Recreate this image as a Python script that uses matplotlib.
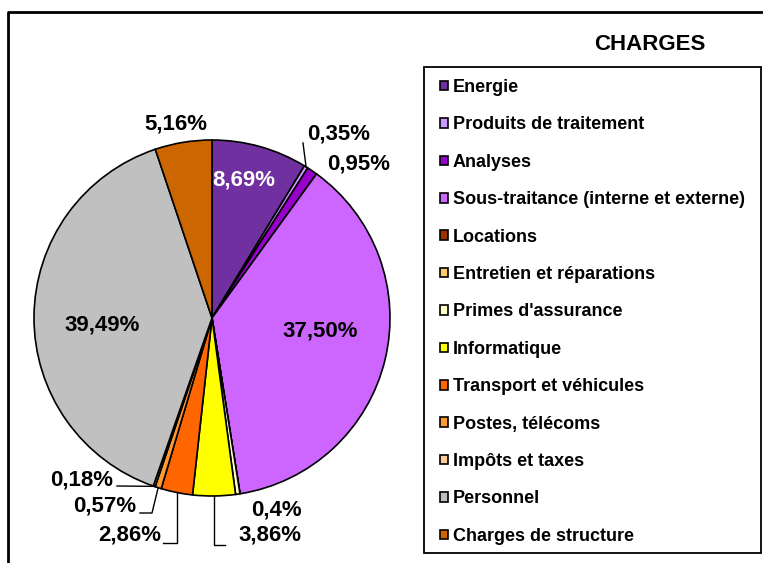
import matplotlib
matplotlib.use("Agg")
import matplotlib.pyplot as plt
from matplotlib.lines import Line2D
from matplotlib.patches import Rectangle
import numpy as np

plt.rcParams['font.family'] = ['Liberation Sans', 'DejaVu Sans']
plt.rcParams['font.weight'] = 'bold'

# ---- data ----
categories = ["Energie", "Produits de traitement", "Analyses",
              "Sous-traitance (interne et externe)", "Locations",
              "Entretien et réparations", "Primes d'assurance", "Informatique",
              "Transport et véhicules", "Postes, télécoms", "Impôts et taxes",
              "Personnel", "Charges de structure"]
values = [8.69, 0.35, 0.95, 37.50, 0.0, 0.0, 0.4, 3.86, 2.86, 0.57, 0.18, 39.49, 5.16]
pct_labels = ["8,69%", "0,35%", "0,95%", "37,50%", "", "", "0,4%", "3,86%",
              "2,86%", "0,57%", "0,18%", "39,49%", "5,16%"]
colors = ["#7030A0", "#CC99FF", "#9900CC", "#CC66FF", "#993300", "#FFCC66",
          "#FFFFCC", "#FFFF00", "#FF6600", "#FF9933", "#FFCC99", "#C0C0C0",
          "#CC6600"]
title = "CHARGES"

# ---- layout (pixel space of a 763x563 image) ----
W, H = 763, 563
CX, CY, R = 212, 318, 178


def d(px, py):
    return (px - CX) / R, (CY - py) / R


label_pos = {0: (244, 180), 1: (339, 134), 2: (359, 164), 3: (320, 331),
             6: (276, 510), 7: (270, 535), 8: (130, 535), 9: (105, 506),
             10: (82, 480), 11: (102, 325), 12: (176, 124)}
leaders = {1: [(303, 143)],
           7: ["v", 545, (225, 545)],
           8: ["v", 543, (163, 543)],
           9: [(152, 513), (140, 513)],
           10: [(117, 486)]}

fig = plt.figure(figsize=(W / 100, H / 100), dpi=100)
ax = fig.add_axes([0, 0, 1, 1])

wedges, _ = ax.pie(values, colors=colors, startangle=90, counterclock=False,
                   radius=1, center=(0, 0),
                   wedgeprops=dict(edgecolor="black", linewidth=1.2))
ax.set_aspect('auto')
ax.set_xlim(-CX / R, (W - CX) / R)
ax.set_ylim((CY - H) / R, CY / R)
ax.axis('off')

for i, w in enumerate(wedges):
    if i not in label_pos:
        continue
    x, y = d(*label_pos[i])
    ax.text(x, y, pct_labels[i], ha='center', va='center', fontsize=16,
            fontweight='bold', color='white' if i == 0 else 'black')
    if i in leaders:
        ang = np.deg2rad((w.theta1 + w.theta2) / 2)
        sx, sy = np.cos(ang), np.sin(ang)
        xs, ys = [sx], [sy]
        spec = leaders[i]
        if spec[0] == "v":
            ey = (CY - spec[1]) / R
            xs.append(sx); ys.append(ey)
            ex, _ = d(*spec[2])
            xs.append(ex); ys.append(ey)
        else:
            for p in spec:
                px, py = d(*p)
                xs.append(px); ys.append(py)
        ax.plot(xs, ys, color='black', linewidth=1)

# outer frame
fig.add_artist(Line2D([8 / W, 8 / W, 1.0], [0.0, 1 - 12 / H, 1 - 12 / H],
                      color='black', linewidth=2, transform=fig.transFigure))
# legend box
fig.add_artist(Rectangle((424 / W, 1 - 553 / H), (761 - 424) / W, (553 - 67) / H,
                         fill=False, edgecolor='black', linewidth=1.3,
                         transform=fig.transFigure))

leg = fig.legend(wedges, categories, loc='upper left',
                 bbox_to_anchor=(440 / W, 1 - 79 / H), bbox_transform=fig.transFigure,
                 frameon=False, fontsize=13, handlelength=0.45, handleheight=0.45,
                 handletextpad=0.25, labelspacing=1.13, borderpad=0, borderaxespad=0)
for t in leg.get_texts():
    t.set_fontweight('bold')

fig.text(650 / W, 1 - 45 / H, title, ha='center', va='center', fontsize=16,
         fontweight='bold')

fig.savefig("out.png", dpi=100)
